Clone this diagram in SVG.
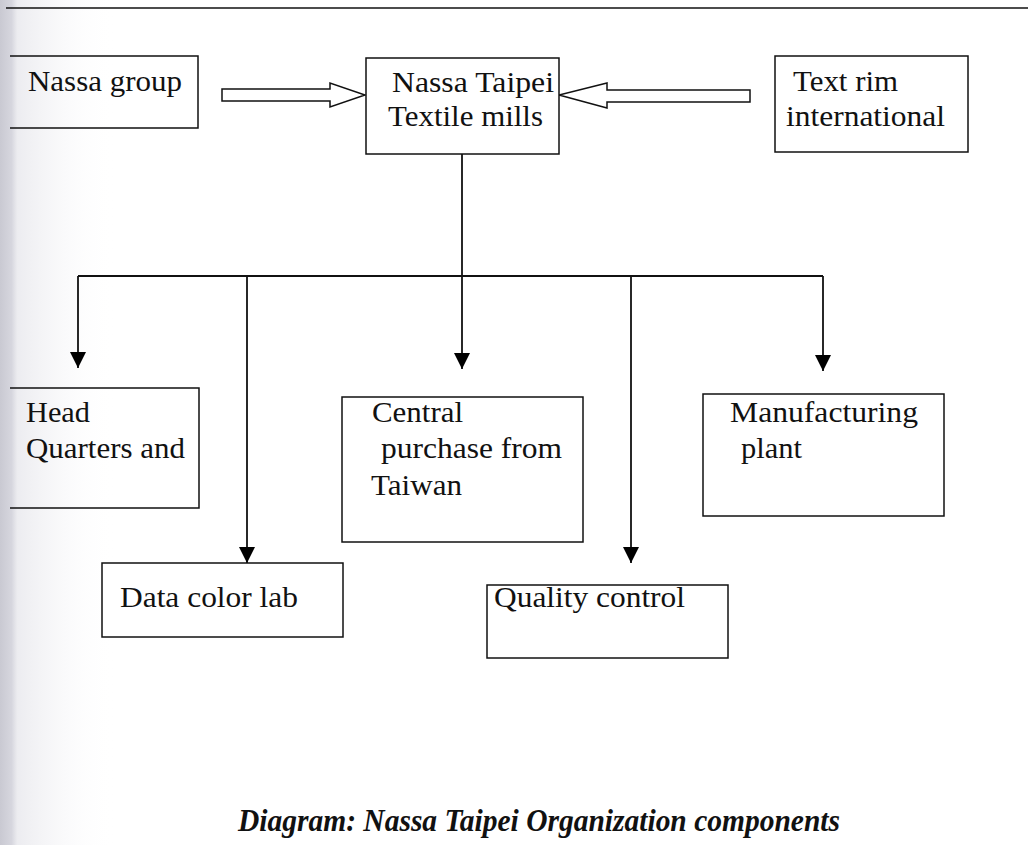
<svg xmlns="http://www.w3.org/2000/svg" width="1028" height="845" viewBox="0 0 1028 845">
  <defs>
    <linearGradient id="band" x1="0" y1="0" x2="1" y2="0">
      <stop offset="0" stop-color="#c9c9d2"/>
      <stop offset="0.1" stop-color="#d6d6de"/>
      <stop offset="0.15" stop-color="#ececf0"/>
      <stop offset="1" stop-color="#ffffff" stop-opacity="0"/>
    </linearGradient>
    <marker id="ah" markerUnits="userSpaceOnUse" markerWidth="18" markerHeight="16" refX="16" refY="8" orient="auto">
      <path d="M0,0 L16,8 L0,16 Z" fill="#000"/>
    </marker>
    <style>
      .box { fill: #fff; stroke: #111; stroke-width: 1.5; }
      .open { fill: none; stroke: #111; stroke-width: 1.5; }
      .lbl { font-family: 'Liberation Serif', 'Times New Roman', serif; font-size: 30px; fill: #111; }
      .con { stroke: #111; stroke-width: 1.8; fill: none; }
      .hollow { fill: #fff; stroke: #111; stroke-width: 1.5; }
      .cap { font-family: 'Liberation Serif', 'Times New Roman', serif; font-size: 32px; font-weight: bold; font-style: italic; fill: #111; }
    </style>
  </defs>
  <rect width="1028" height="845" fill="#fff"/>
  <rect x="0" y="0" width="115" height="845" fill="url(#band)"/>
  <line x1="6" y1="8" x2="1028" y2="8" stroke="#111" stroke-width="1.5"/>

  <g id="connectors">
    <polygon class="hollow" points="222,89 330,89 330,83 365,95 330,107 330,101 222,101"/>
    <polygon class="hollow" points="750,90 607,90 607,83 559,95 607,108 607,102 750,102"/>
    <line class="con" x1="462" y1="154" x2="462" y2="369" marker-end="url(#ah)"/>
    <line class="con" x1="78" y1="276" x2="823" y2="276"/>
    <line class="con" x1="78" y1="276" x2="78" y2="368" marker-end="url(#ah)"/>
    <line class="con" x1="247" y1="276" x2="247" y2="563" marker-end="url(#ah)"/>
    <line class="con" x1="631" y1="276" x2="631" y2="563" marker-end="url(#ah)"/>
    <line class="con" x1="823" y1="276" x2="823" y2="371" marker-end="url(#ah)"/>
  </g>

  <g id="nassa-group">
    <path class="open" d="M10,56 H198 V128 H10"/>
    <text class="lbl" x="28" y="91" textLength="154" lengthAdjust="spacingAndGlyphs">Nassa group</text>
  </g>
  <g id="nassa-taipei">
    <rect class="box" x="366" y="58" width="193" height="96"/>
    <text class="lbl" x="392" y="92" textLength="162" lengthAdjust="spacingAndGlyphs">Nassa Taipei</text>
    <text class="lbl" x="388" y="126" textLength="155" lengthAdjust="spacingAndGlyphs">Textile mills</text>
  </g>
  <g id="text-rim">
    <rect class="box" x="775" y="56" width="193" height="96"/>
    <text class="lbl" x="793" y="91" textLength="105" lengthAdjust="spacingAndGlyphs">Text rim</text>
    <text class="lbl" x="786" y="126" textLength="159" lengthAdjust="spacingAndGlyphs">international</text>
  </g>
  <g id="head-quarters">
    <path class="open" d="M10,388 H199 V508 H10"/>
    <text class="lbl" x="26" y="422" textLength="64" lengthAdjust="spacingAndGlyphs">Head</text>
    <text class="lbl" x="26" y="458" textLength="159" lengthAdjust="spacingAndGlyphs">Quarters and</text>
  </g>
  <g id="central-purchase">
    <rect class="box" x="342" y="397" width="241" height="145"/>
    <text class="lbl" x="372" y="422" textLength="91" lengthAdjust="spacingAndGlyphs">Central</text>
    <text class="lbl" x="381" y="458" textLength="181" lengthAdjust="spacingAndGlyphs">purchase from</text>
    <text class="lbl" x="371" y="495" textLength="91" lengthAdjust="spacingAndGlyphs">Taiwan</text>
  </g>
  <g id="manufacturing">
    <rect class="box" x="703" y="394" width="241" height="122"/>
    <text class="lbl" x="730" y="422" textLength="188" lengthAdjust="spacingAndGlyphs">Manufacturing</text>
    <text class="lbl" x="741" y="458" textLength="61" lengthAdjust="spacingAndGlyphs">plant</text>
  </g>
  <g id="data-color-lab">
    <rect class="box" x="102" y="563" width="241" height="74"/>
    <text class="lbl" x="120" y="607" textLength="178" lengthAdjust="spacingAndGlyphs">Data color lab</text>
  </g>
  <g id="quality-control">
    <rect class="box" x="487" y="585" width="241" height="73"/>
    <text class="lbl" x="494" y="607" textLength="191" lengthAdjust="spacingAndGlyphs">Quality control</text>
  </g>
  <g id="caption">
    <text class="cap" x="238" y="831" textLength="602" lengthAdjust="spacingAndGlyphs">Diagram: Nassa Taipei Organization components</text>
  </g>
</svg>
